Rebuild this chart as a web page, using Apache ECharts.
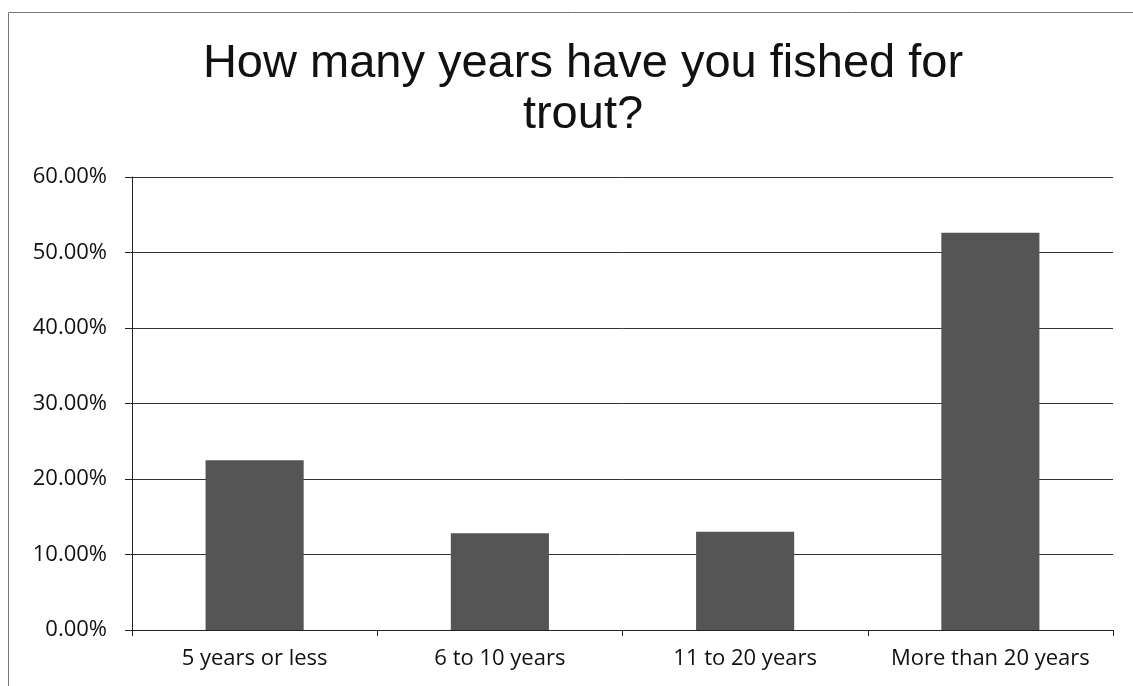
<!DOCTYPE html>
<html>
<head>
<meta charset="utf-8">
<script src="https://cdn.jsdelivr.net/npm/echarts@6/dist/echarts.min.js"></script>
<style>
    html, body { margin: 0; padding: 0; background: #fff; }
    #chart { width: 1133px; height: 686px; }
</style>
</head>
<body>
<div id="chart"></div>
<script>
// 数据
var categories = ['5 years or less', '6 to 10 years', '11 to 20 years', 'More than 20 years'];
var percentValues = [22.5, 12.8, 13.0, 52.6];
var yTicks = [0, 10, 20, 30, 40, 50, 60];

var chart = echarts.init(document.getElementById('chart'));

chart.setOption({
    animation: false,
    backgroundColor: '#fff',
    title: {
        text: 'How many years have you fished for\ntrout?',
        left: 578,
        top: 34,
        textAlign: 'center',
        textStyle: {
            fontFamily: 'Liberation Sans',
            fontWeight: 'normal',
            fontSize: 47,
            lineHeight: 51,
            color: '#111'
        }
    },
    graphic: [{
        type: 'rect',
        shape: { x: 8.5, y: 12.5, width: 1140, height: 700 },
        style: { fill: 'none', stroke: '#777', lineWidth: 1 },
        silent: true
    }],
    grid: {
        left: 132,
        right: 20,
        top: 177,
        bottom: 56
    },
    xAxis: {
        type: 'category',
        data: categories,
        axisLine: { lineStyle: { color: '#222', width: 1 } },
        axisTick: { show: true, interval: 0, length: 6, lineStyle: { color: '#222' } },
        axisLabel: {
            interval: 0,
            hideOverlap: false,
            fontFamily: 'Open Sans',
            fontSize: 22,
            color: '#111',
            margin: 18
        }
    },
    yAxis: {
        type: 'value',
        min: yTicks[0],
        max: yTicks[yTicks.length - 1],
        interval: 10,
        axisLine: { show: true, lineStyle: { color: '#222', width: 1 } },
        axisTick: { show: true, length: 7, lineStyle: { color: '#222' } },
        splitLine: { lineStyle: { color: '#333', width: 1 } },
        axisLabel: {
            fontFamily: 'Open Sans',
            fontSize: 22,
            color: '#111',
            margin: 25,
            formatter: function (v) { return v.toFixed(2) + '%'; }
        }
    },
    series: [{
        type: 'bar',
        data: percentValues,
        barWidth: '40%',
        itemStyle: { color: '#555' }
    }]
});
</script>
</body>
</html>
